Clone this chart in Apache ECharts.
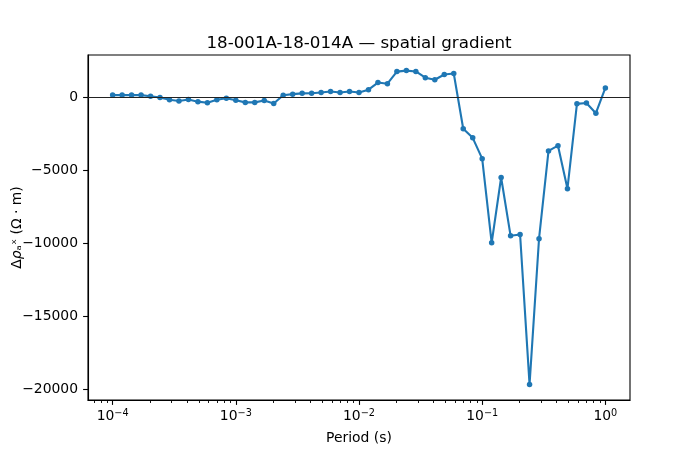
<!DOCTYPE html>
<html>
<head>
<meta charset="utf-8">
<script src="https://cdn.jsdelivr.net/npm/echarts@6/dist/echarts.min.js"></script>
<style>html,body{margin:0;padding:0;background:#fff}#c{width:700px;height:450px}</style>
</head>
<body>
<div id="c"></div>
<script>
const periods = [
  1.000e-4, 1.194e-4, 1.425e-4, 1.701e-4, 2.031e-4, 2.424e-4, 2.894e-4, 3.455e-4, 4.125e-4, 4.924e-4, 5.878e-4, 7.017e-4, 8.377e-4,
  1.000e-3, 1.194e-3, 1.425e-3, 1.701e-3, 2.031e-3, 2.424e-3, 2.894e-3, 3.455e-3, 4.125e-3, 4.924e-3, 5.878e-3, 7.017e-3, 8.377e-3,
  1.000e-2, 1.194e-2, 1.425e-2, 1.701e-2, 2.031e-2, 2.424e-2, 2.894e-2, 3.455e-2, 4.125e-2, 4.924e-2, 5.878e-2, 7.017e-2, 8.377e-2,
  1.000e-1, 1.194e-1, 1.425e-1, 1.701e-1, 2.031e-1, 2.424e-1, 2.894e-1, 3.455e-1, 4.125e-1, 4.924e-1, 5.878e-1, 7.017e-1, 8.377e-1,
  1.000
];
const drho = [
  150, 150, 155, 150, 75, -20, -170, -250, -150, -300, -380, -170, -60,
  -205, -350, -350, -215, -430, 136, 215, 270, 273, 330, 400, 330, 400,
  330, 520, 1010, 930, 1760, 1830, 1770, 1340, 1200, 1560, 1630, -2160, -2780,
  -4210, -9980, -5500, -9500, -9410, -19690, -9700, -3680, -3320, -6270, -450, -390, -1090,
  640
];
const xMajorTicks = [1e-4, 1e-3, 1e-2, 1e-1, 1];
const xMinorTicks = [
  7e-5, 8e-5, 9e-5,
  2e-4, 3e-4, 4e-4, 5e-4, 6e-4, 7e-4, 8e-4, 9e-4,
  2e-3, 3e-3, 4e-3, 5e-3, 6e-3, 7e-3, 8e-3, 9e-3,
  2e-2, 3e-2, 4e-2, 5e-2, 6e-2, 7e-2, 8e-2, 9e-2,
  2e-1, 3e-1, 4e-1, 5e-1, 6e-1, 7e-1, 8e-1, 9e-1
];
const yTicks = [-20000, -15000, -10000, -5000, 0];
const titleText = '18-001A-18-014A \u2014 spatial gradient';
const xName = 'Period (s)';

const FONT = 'DejaVu Sans';
const xMin = Math.pow(10, -4.2), xMax = Math.pow(10, 0.2);
const yMin = -20760, yMax = 2900;
const chart = echarts.init(document.getElementById('c'), null, {renderer: 'canvas'});
chart.setOption({
  animation: false,
  backgroundColor: '#fff',
  title: {
    text: titleText,
    left: 354, top: 30, textAlign: 'center',
    textStyle: {fontFamily: FONT, fontSize: 16.7, fontWeight: 'normal', color: '#000'}
  },
  grid: {left: 88, right: 70, top: 55, bottom: 50, containLabel: false, outerBoundsMode: 'none',
    show: true, borderColor: '#000', borderWidth: 1.1, backgroundColor: 'transparent'},
  xAxis: {
    type: 'log', logBase: 10, min: xMin, max: xMax, position: 'bottom',
    name: xName, nameLocation: 'middle', nameGap: 31,
    nameTextStyle: {fontFamily: FONT, fontSize: 13.9, color: '#000'},
    axisLine: {show: true, onZero: false, lineStyle: {color: '#000', width: 1.1}},
    axisTick: {show: true, customValues: xMajorTicks, length: 4.9, lineStyle: {color: '#000', width: 1.1}},
    axisLabel: {
      customValues: xMajorTicks, margin: 8, color: '#000',
      formatter: v => '{b|10}{e|' + String(Math.round(Math.log10(v))).replace('-', '\u2212') + '}',
      rich: {
        b: {fontFamily: FONT, fontSize: 13.9, color: '#000'},
        e: {fontFamily: FONT, fontSize: 9.7, color: '#000', padding: [0, 0, 7, 0]}
      }
    },
    splitLine: {show: false}
  },
  yAxis: {
    type: 'value', min: yMin, max: yMax,
    name: '{n|\u0394}{i|\u03c1}{n|\u2090\u02e3 (\u03a9 \u00b7 m)}', nameLocation: 'middle', nameGap: 64, nameRotate: 90,
    nameMoveOverlap: false,
    nameTextStyle: {
      fontFamily: FONT, fontSize: 13.9, color: '#000',
      rich: {
        n: {fontFamily: FONT, fontSize: 13.9, color: '#000'},
        i: {fontFamily: FONT, fontSize: 13.9, fontStyle: 'italic', color: '#000'}
      }
    },
    axisLine: {show: true, onZero: false, lineStyle: {color: '#000', width: 1.1}},
    axisTick: {show: true, customValues: yTicks, length: 4.9, lineStyle: {color: '#000', width: 1.1}},
    axisLabel: {
      customValues: yTicks, margin: 10, color: '#000', fontFamily: FONT, fontSize: 13.9,
      formatter: v => String(v).replace('-', '\u2212')
    },
    splitLine: {show: false}
  },
  series: [{
    type: 'line',
    data: periods.map((p, i) => [p, drho[i]]),
    symbol: 'circle', symbolSize: 5.5, showSymbol: true,
    lineStyle: {color: '#1f77b4', width: 2.1},
    itemStyle: {color: '#1f77b4'},
    markLine: {
      silent: true, symbol: 'none', label: {show: false},
      lineStyle: {color: '#222', width: 1, type: 'solid'},
      data: [{yAxis: 0}]
    },
    z: 3
  }]
});
try {
  const yb = chart.convertToPixel({yAxisIndex: 0}, yMin);
  const minorGraphics = [];
  xMinorTicks.forEach(v => {
    const x = chart.convertToPixel({xAxisIndex: 0}, v);
    if (isFinite(x) && isFinite(yb)) {
      const xp = Math.round(x) + 0.5;
      minorGraphics.push({
        type: 'line', silent: true, z: 10,
        shape: {x1: xp, y1: yb, x2: xp, y2: yb + 3},
        style: {stroke: '#000', lineWidth: 0.9}
      });
    }
  });
  chart.setOption({graphic: minorGraphics});
} catch (err) { console.error(err); }
</script>
</body>
</html>
